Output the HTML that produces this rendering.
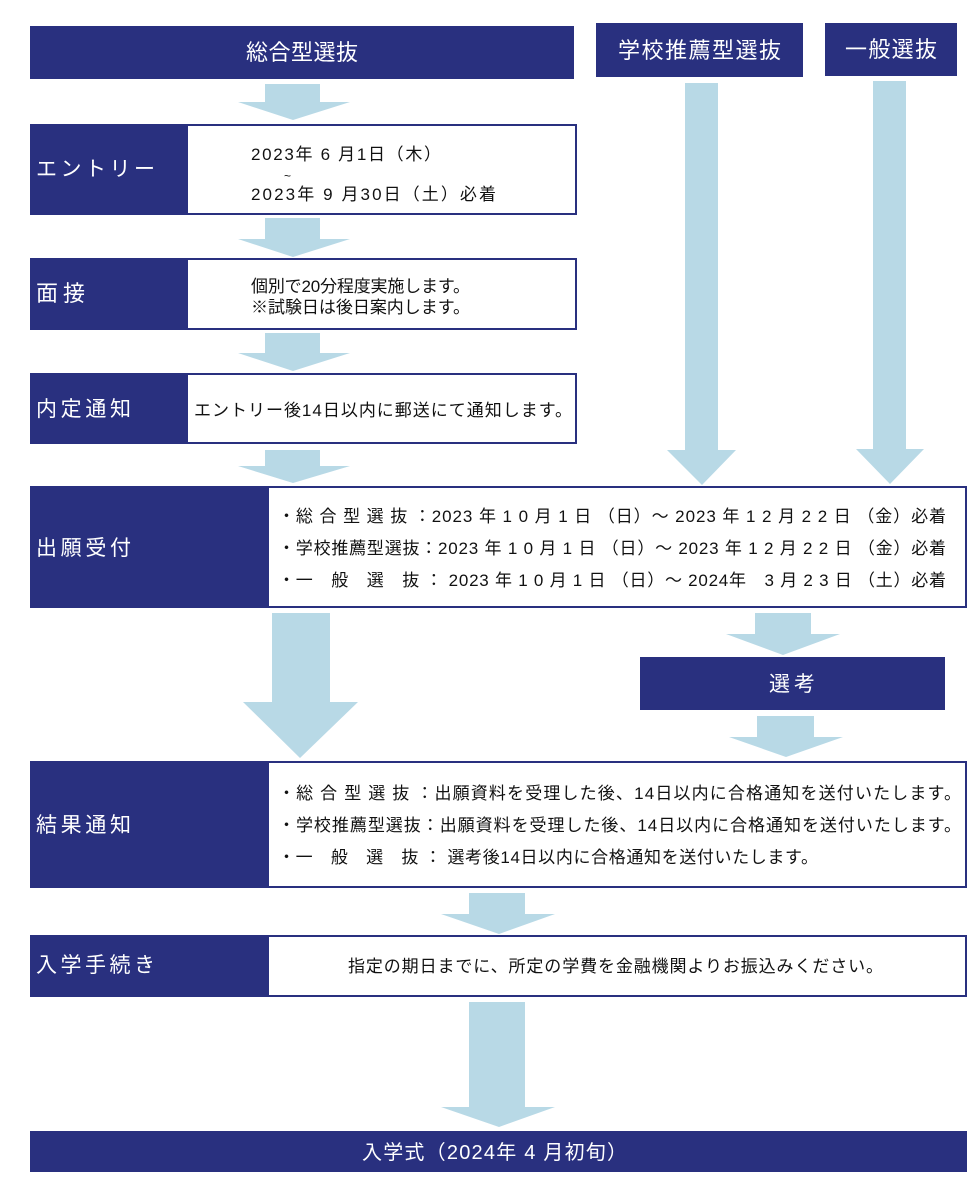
<!DOCTYPE html>
<html><head><meta charset="utf-8"><style>
html,body{margin:0;padding:0;background:#fff;}
svg{display:block;}
text{font-family:"Liberation Sans","Noto Sans CJK JP",sans-serif;}
.w{fill:#fff;}
.k{fill:#111;}
</style></head><body>
<svg width="975" height="1196" viewBox="0 0 975 1196" xmlns="http://www.w3.org/2000/svg">
<g fill="#b8d9e6">
<polygon points="265,84 320,84 320,102 350,102 293,120 238,102 265,102"/>
<polygon points="265,218 320,218 320,239 350,239 293,257 238,239 265,239"/>
<polygon points="265,333 320,333 320,353 350,353 293,371 238,353 265,353"/>
<polygon points="265,450 320,450 320,466 350,466 293,483 238,466 265,466"/>
<polygon points="685,83 718,83 718,450 736,450 702,485 667,450 685,450"/>
<polygon points="873,81 906,81 906,449 924,449 890,484 856,449 873,449"/>
<polygon points="272,613 330,613 330,702 358,702 300,758 243,702 272,702"/>
<polygon points="755,613 811,613 811,634 840,634 783,655 726,634 755,634"/>
<polygon points="757,716 814,716 814,737 843,737 786,757 729,737 757,737"/>
<polygon points="469,893 525,893 525,914 555,914 499,934 441,914 469,914"/>
<polygon points="469,1002 525,1002 525,1107 555,1107 499,1127 441,1107 469,1107"/>
</g>
<g fill="#29307f">
<rect x="30" y="26" width="544" height="53"/>
<rect x="596" y="23" width="207" height="54"/>
<rect x="825" y="23" width="132" height="53"/>
<rect x="640" y="657" width="305" height="53"/>
<rect x="30" y="1131" width="937" height="41"/>
</g>
<g stroke="#29307f" stroke-width="2" fill="#fff">
<rect x="187" y="125" width="389" height="89"/>
<rect x="187" y="259" width="389" height="70"/>
<rect x="187" y="374" width="389" height="69"/>
<rect x="268" y="487" width="698" height="120"/>
<rect x="268" y="762" width="698" height="125"/>
<rect x="268" y="936" width="698" height="60"/>
</g>
<g fill="#29307f">
<rect x="30" y="124" width="157" height="91"/>
<rect x="30" y="258" width="157" height="72"/>
<rect x="30" y="373" width="157" height="71"/>
<rect x="30" y="486" width="238" height="122"/>
<rect x="30" y="761" width="238" height="127"/>
<rect x="30" y="935" width="238" height="62"/>
</g>
<g class="w" font-size="22">
<text x="246" y="60" textLength="112">総合型選抜</text>
<text x="618" y="58" textLength="163">学校推薦型選抜</text>
<text x="845" y="57" textLength="92">一般選抜</text>
<text x="769" y="691" textLength="46" font-size="21">選考</text>
<text x="362" y="1159" textLength="265" font-size="20">入学式（2024年 4 月初旬）</text>
<text x="36" y="176" textLength="119" font-size="21">エントリー</text>
<text x="36" y="301" textLength="49" font-size="22">面接</text>
<text x="36" y="416" textLength="95" font-size="21">内定通知</text>
<text x="36" y="555" textLength="95" font-size="21">出願受付</text>
<text x="36" y="832" textLength="95" font-size="21">結果通知</text>
<text x="36" y="972" textLength="119" font-size="21">入学手続き</text>
</g>
<g class="k" font-size="17">
<text x="251" y="160" textLength="190">2023年 6 月1日（木）</text>
<text x="284" y="180" font-size="12">~</text>
<text x="251" y="200" textLength="245">2023年 9 月30日（土）必着</text>
<text x="251" y="292" textLength="219">個別で20分程度実施します。</text>
<text x="251" y="313" textLength="219">※試験日は後日案内します。</text>
<text x="194" y="416" textLength="378">エントリー後14日以内に郵送にて通知します。</text>
<text x="278" y="522" textLength="668">・総 合 型 選 抜 ：2023 年 1 0 月 1 日 （日）～ 2023 年 1 2 月 2 2 日 （金）必着</text>
<text x="278" y="554" textLength="668">・学校推薦型選抜：2023 年 1 0 月 1 日 （日）～ 2023 年 1 2 月 2 2 日 （金）必着</text>
<text x="278" y="586" textLength="668">・一　般　選　抜 ： 2023 年 1 0 月 1 日 （日）～ 2024年　3 月 2 3 日 （土）必着</text>
<text x="278" y="799" textLength="683">・総 合 型 選 抜 ：出願資料を受理した後、14日以内に合格通知を送付いたします。</text>
<text x="278" y="831" textLength="683">・学校推薦型選抜：出願資料を受理した後、14日以内に合格通知を送付いたします。</text>
<text x="278" y="863" textLength="540">・一　般　選　抜 ： 選考後14日以内に合格通知を送付いたします。</text>
<text x="348" y="972" textLength="535">指定の期日までに、所定の学費を金融機関よりお振込みください。</text>
</g>
</svg>
</body></html>
